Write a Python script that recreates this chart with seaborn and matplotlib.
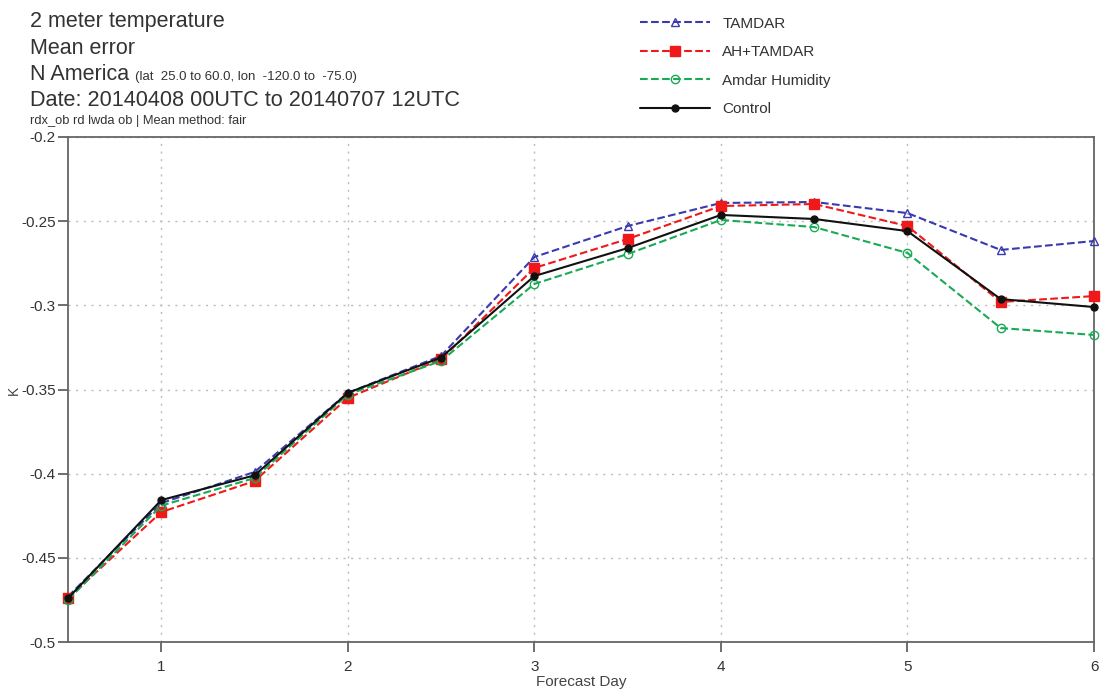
import numpy as np
import pandas as pd
import matplotlib
matplotlib.use("Agg")
import matplotlib.pyplot as plt
import seaborn as sns

days = [0.5, 1, 1.5, 2, 2.5, 3, 3.5, 4, 4.5, 5, 5.5, 6]

tamdar = [-0.473, -0.4175, -0.399, -0.352, -0.330, -0.2713, -0.2529, -0.2392, -0.2386, -0.2452, -0.2671, -0.2618]
ah_tamdar = [-0.474, -0.4228, -0.4044, -0.355, -0.332, -0.2778, -0.2606, -0.2410, -0.2398, -0.2529, -0.2980, -0.2945]
amdar_hum = [-0.475, -0.419, -0.4026, -0.353, -0.333, -0.2873, -0.2695, -0.2493, -0.2535, -0.2689, -0.3135, -0.3176]
control = [-0.474, -0.4157, -0.401, -0.352, -0.331, -0.2826, -0.2660, -0.2463, -0.2487, -0.2559, -0.2963, -0.3010]

names = ["TAMDAR", "AH+TAMDAR", "Amdar Humidity", "Control"]
colors = ["#3a3ab0", "#f01818", "#1aaa55", "#111111"]
markers = ["^", "s", "o", "o"]
dashes = [(3, 1.5), (3, 1.5), (3, 1.5), ""]
mfc = ["none", "#f01818", "none", "#111111"]
msize = [6, 7, 6, 5]

df = pd.DataFrame({"day": days * 4,
                   "val": tamdar + ah_tamdar + amdar_hum + control,
                   "run": sum([[n] * len(days) for n in names], [])})

sns.set_style("white")
plt.rcParams["font.family"] = ["Liberation Sans", "DejaVu Sans"]

fig = plt.figure(figsize=(11.01, 6.91), dpi=100)
ax = fig.add_axes([68 / 1101, 1 - 642 / 691, (1094 - 68) / 1101, (642 - 137) / 691])

for i, n in enumerate(names):
    d = df[df.run == n]
    sns.lineplot(data=d, x="day", y="val", ax=ax, color=colors[i], lw=1.5,
                 marker=markers[i], markersize=msize[i], markerfacecolor=mfc[i],
                 markeredgecolor=colors[i], markeredgewidth=1.0,
                 dashes=dashes[i] if dashes[i] else (None, None),
                 linestyle="--" if dashes[i] else "-", label=n, legend=False,
                 clip_on=False, zorder=3 + i)

ax.set_xlim(0.5, 6)
ax.set_ylim(-0.5, -0.2)
ax.set_xticks([1, 2, 3, 4, 5, 6])
ax.set_yticks(np.arange(-0.5, -0.19, 0.05))
ax.set_yticklabels(["-0.5", "-0.45", "-0.4", "-0.35", "-0.3", "-0.25", "-0.2"])
ax.grid(True, color="#bbbbbb", ls=(0, (1.5, 4)), lw=1)
for s in ax.spines.values():
    s.set_color("#666666")
    s.set_linewidth(1.3)
ax.tick_params(axis="y", direction="out", length=7, width=1.2, color="#555555",
               labelsize=11, labelcolor="#333333", pad=2, left=True)
ax.tick_params(axis="x", direction="out", length=7, width=1.2, color="#555555",
               labelsize=11, labelcolor="#333333", pad=6, bottom=True)
ax.set_xlabel("Forecast Day", fontsize=11, color="#444444", labelpad=1)
ax.set_ylabel("")
fig.text(14 / 1101, 1 - 390 / 691, "K", rotation=90, fontsize=10, color="#444444",
         va="center", ha="center")

tc = "#333333"
fig.text(30 / 1101, 1 - 22 / 691, "2 meter temperature", fontsize=15.5, color=tc, va="center")
fig.text(30 / 1101, 1 - 48 / 691, "Mean error", fontsize=15.5, color=tc, va="center")
fig.text(30 / 1101, 1 - 75 / 691, "N America", fontsize=15.5, color=tc, va="center")
fig.text(135 / 1101, 1 - 77 / 691, "(lat  25.0 to 60.0, lon  -120.0 to  -75.0)",
         fontsize=9.5, color=tc, va="center")
fig.text(30 / 1101, 1 - 101 / 691, "Date: 20140408 00UTC to 20140707 12UTC",
         fontsize=15.6, color=tc, va="center")
fig.text(30 / 1101, 1 - 121 / 691, "rdx_ob rd lwda ob | Mean method: fair",
         fontsize=9.3, color=tc, va="center")

handles, labels = ax.get_legend_handles_labels()
fig.legend(handles, labels, loc="upper left", bbox_to_anchor=(626 / 1101, 1 - 3 / 691),
           frameon=False, fontsize=11, handlelength=4.6, labelspacing=0.95,
           handletextpad=0.8, labelcolor="#333333")

fig.savefig("out.png", dpi=100)
